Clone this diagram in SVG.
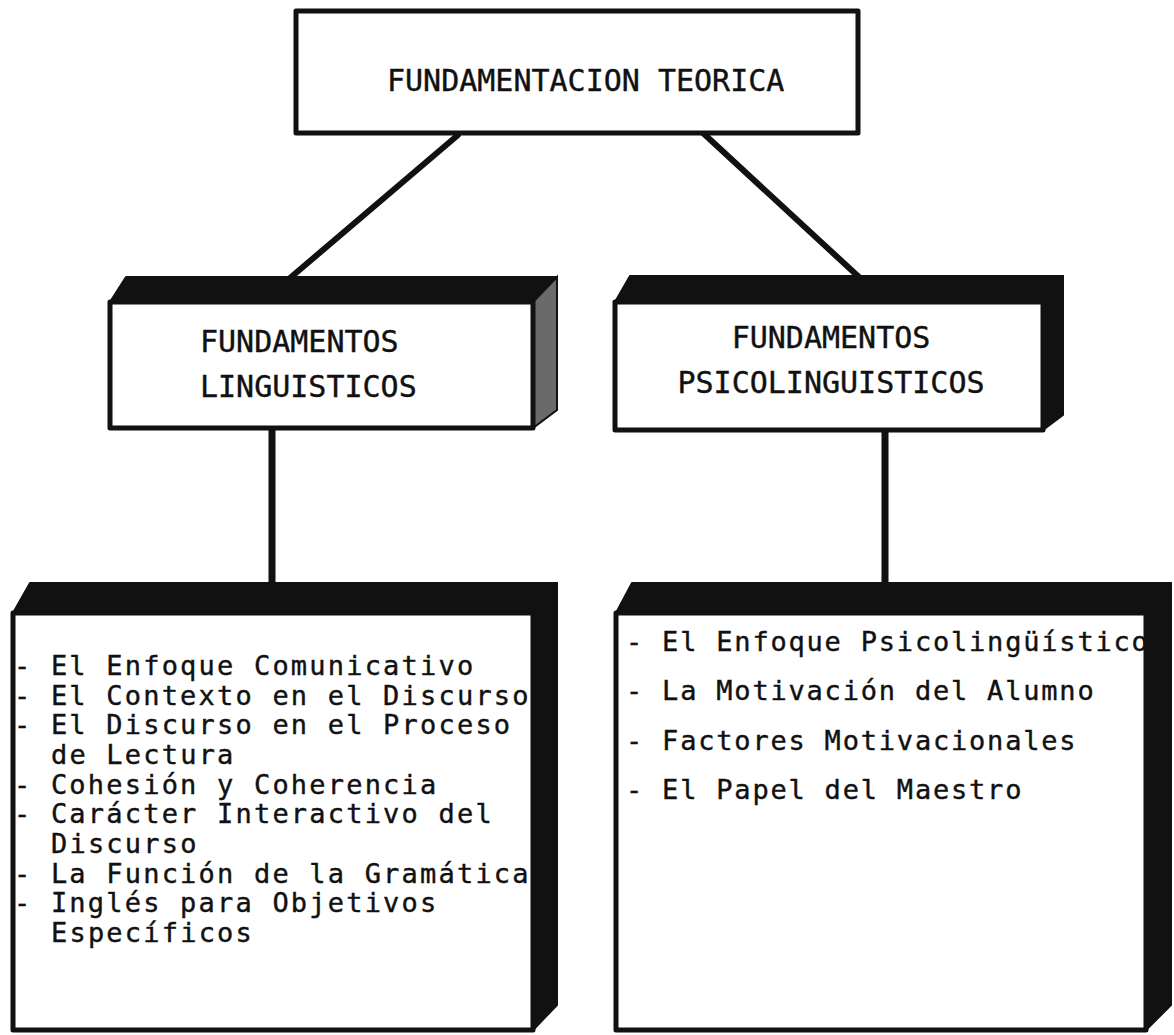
<svg xmlns="http://www.w3.org/2000/svg" width="1174" height="1035" viewBox="0 0 1174 1035">
<style>
.box{fill:#fff;stroke:#111;stroke-width:5;stroke-linejoin:round}
.dark{fill:#111;stroke:#111;stroke-width:2;stroke-linejoin:round}
.tex{fill:#6a6a6a;stroke:#111;stroke-width:2}
.hd{font-family:"DejaVu Sans Mono","Liberation Mono",monospace;font-size:30px;fill:#111;stroke:#111;stroke-width:0.4}
.li{font-family:"DejaVu Sans Mono","Liberation Mono",monospace;font-size:27px;fill:#111;stroke:#111;stroke-width:0.4;letter-spacing:2.2px}
.lr{letter-spacing:1.8px}
.con{stroke:#111;stroke-width:6;fill:none;stroke-linecap:round}
</style>
<rect width="1174" height="1035" fill="#fff"/>
<g id="connectors">
<line class="con" x1="458" y1="135" x2="290" y2="278"/>
<line class="con" x1="703" y1="133" x2="860" y2="278"/>
<line class="con" x1="272" y1="430" x2="272" y2="584" style="stroke-width:7"/>
<line class="con" x1="885" y1="430" x2="885" y2="584" style="stroke-width:7"/>
</g>
<g id="root">
<rect class="box" x="296" y="11" width="562" height="122"/>
<text class="hd" x="387" y="91">FUNDAMENTACION TEORICA</text>
</g>
<g id="ling">
<polygon class="dark" points="110,302 126,277 557,277 533,302"/>
<polygon class="tex" points="533,302 557,277 557,410 533,428"/>
<rect class="box" x="110" y="302" width="423" height="126"/>
<text class="hd" x="200" y="352">FUNDAMENTOS</text>
<text class="hd" x="200" y="397">LINGUISTICOS</text>
</g>
<g id="psico">
<polygon class="dark" points="615,302 630,276 1063,276 1043,302"/>
<polygon class="dark" points="1043,302 1063,276 1063,415 1043,430"/>
<rect class="box" x="615" y="302" width="428" height="128"/>
<text class="hd" x="831" y="348" text-anchor="middle">FUNDAMENTOS</text>
<text class="hd" x="831" y="393" text-anchor="middle">PSICOLINGUISTICOS</text>
</g>
<g id="ling-list">
<polygon class="dark" points="13,613 30,583 557,583 533,613"/>
<polygon class="dark" points="533,613 557,583 557,1005 533,1030"/>
<rect class="box" x="13" y="613" width="520" height="417"/>
<text class="li" x="14" y="675">- El Enfoque Comunicativo</text>
<text class="li" x="14" y="705">- El Contexto en el Discurso</text>
<text class="li" x="14" y="734">- El Discurso en el Proceso</text>
<text class="li" x="51" y="764">de Lectura</text>
<text class="li" x="14" y="794">- Cohesión y Coherencia</text>
<text class="li" x="14" y="823">- Carácter Interactivo del</text>
<text class="li" x="51" y="853">Discurso</text>
<text class="li" x="14" y="883">- La Función de la Gramática</text>
<text class="li" x="14" y="912">- Inglés para Objetivos</text>
<text class="li" x="51" y="942">Específicos</text>
</g>
<g id="psico-list">
<polygon class="dark" points="616,613 632,583 1171,583 1146,613"/>
<polygon class="dark" points="1146,613 1171,583 1171,1005 1146,1030"/>
<rect class="box" x="616" y="613" width="530" height="417"/>
<text class="li lr" x="626" y="651">- El Enfoque Psicolingüístico</text>
<text class="li lr" x="626" y="700">- La Motivación del Alumno</text>
<text class="li lr" x="626" y="750">- Factores Motivacionales</text>
<text class="li lr" x="626" y="799">- El Papel del Maestro</text>
</g>
</svg>
